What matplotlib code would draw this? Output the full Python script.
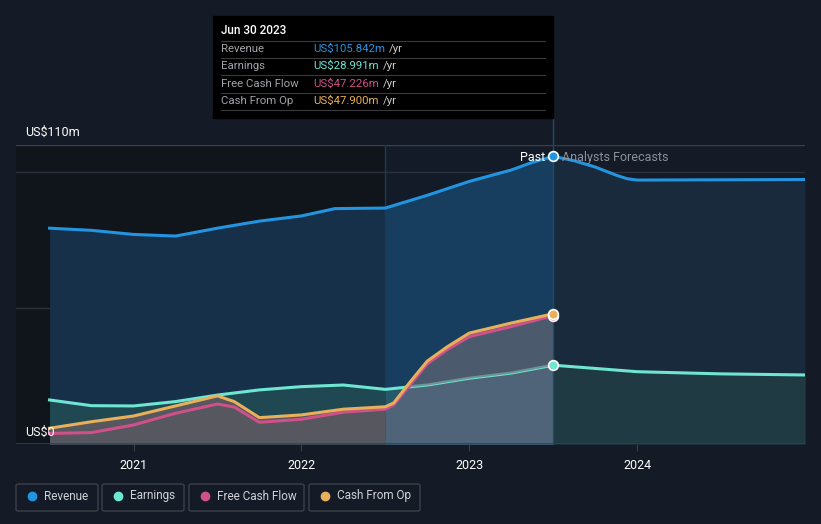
import matplotlib
matplotlib.use("Agg")
import matplotlib.pyplot as plt
from matplotlib.patches import Rectangle, FancyBboxPatch
from matplotlib.lines import Line2D
import numpy as np

plt.rcParams['font.family'] = ['Roboto', 'DejaVu Sans']

# ---- data (US$m, x in decimal years) ----
rev_x = [2020.5, 2020.75, 2021.0, 2021.25, 2021.5, 2021.75, 2022.0, 2022.2, 2022.5,
         2022.75, 2023.0, 2023.25, 2023.375, 2023.5]
rev_y = [79.4, 78.6, 77.1, 76.5, 79.4, 82.0, 83.9, 86.6, 86.8, 91.5, 96.6, 100.8, 103.6, 105.842]
rev_fx = [2023.5, 2023.625, 2023.75, 2023.875, 2023.94, 2024.0, 2024.5, 2025.0]
rev_fy = [105.842, 104.2, 101.9, 98.9, 97.6, 97.1, 97.2, 97.3]

earn_x = [2020.5, 2020.75, 2021.0, 2021.25, 2021.5, 2021.75, 2022.0, 2022.25, 2022.5,
          2022.75, 2023.0, 2023.25, 2023.5]
earn_y = [16.2, 14.1, 14.0, 15.6, 18.0, 19.9, 21.1, 21.7, 20.1, 21.7, 24.2, 26.1, 28.991]
earn_fx = [2023.5, 2023.75, 2024.0, 2024.5, 2025.0]
earn_fy = [28.991, 27.8, 26.6, 25.8, 25.4]

cfo_x = [2020.5, 2020.75, 2021.0, 2021.25, 2021.5, 2021.6, 2021.75, 2022.0, 2022.25, 2022.5,
         2022.55, 2022.65, 2022.75, 2022.87, 2023.0, 2023.25, 2023.5]
cfo_y = [5.8, 8.2, 10.3, 14.0, 17.7, 15.6, 9.7, 10.7, 12.8, 13.7,
         15.1, 23.0, 30.5, 35.8, 40.8, 44.5, 47.9]

fcf_x = [2020.5, 2020.75, 2021.0, 2021.25, 2021.5, 2021.6, 2021.75, 2022.0, 2022.25, 2022.5,
         2022.55, 2022.65, 2022.75, 2022.87, 2023.0, 2023.25, 2023.5]
fcf_y = [3.9, 4.2, 7.0, 11.3, 14.7, 13.6, 8.0, 9.1, 11.7, 12.8,
         14.4, 22.0, 29.5, 34.8, 39.5, 43.2, 47.226]

years = [2021, 2022, 2023, 2024]
tip_names = ["Revenue", "Earnings", "Free Cash Flow", "Cash From Op"]
tip_vals = ["US$105.842m", "US$28.991m", "US$47.226m", "US$47.900m"]

C_REV = "#2394df"
C_EARN = "#6ee6d2"
C_FCF = "#d0508a"
C_CFO = "#e8b05a"
BG = "#151b26"

W, H = 821, 524
fig = plt.figure(figsize=(W / 100, H / 100), dpi=100, facecolor=BG)

def fx(x):
    return x / W

def fy(y):
    return 1 - y / H

ax = fig.add_axes([fx(16), fy(444), fx(805) - fx(16), fy(145) - fy(444)])
ax.set_facecolor(BG)
x0, x1 = 2020.3, 2025.0
ax.set_xlim(x0, x1)
ax.set_ylim(0, 110)

# background regions
ax.axvspan(x0, 2022.5, color="#10141b", zorder=0, lw=0)
ax.axvspan(2022.5, 2023.5, color="#121b27", zorder=0, lw=0)

# grid lines
for g in [50, 100]:
    ax.axhline(g, color="#2a303b", lw=1, zorder=1)
ax.axhline(110, color="#3a3f49", lw=1, zorder=1)
ax.axhline(0, color="#3a3f49", lw=1.2, zorder=6)

# revenue fills
rx = np.array(rev_x); ry = np.array(rev_y)
ax.fill_between(rx, ry, 0, where=rx <= 2022.5, color="#17304a", lw=0, zorder=2)
ax.fill_between(rx, ry, 0, where=rx >= 2022.5, color="#173e5e", lw=0, zorder=2)
ax.fill_between(rev_fx, rev_fy, 0, color="#182a3c", lw=0, zorder=2)

# earnings fills
ex = np.array(earn_x); ey = np.array(earn_y)
ax.fill_between(ex, ey, 0, where=ex <= 2022.5, color="#1f4852", lw=0, zorder=3)
ax.fill_between(ex, ey, 0, where=ex >= 2022.5, color="#25586a", lw=0, zorder=3)
ax.fill_between(earn_fx, earn_fy, 0, color="#1f3a42", lw=0, zorder=3)

# earnings line sits under the cash flow fill
ax.plot(earn_x, earn_y, color=C_EARN, lw=2.2, zorder=3.5)
ax.plot(earn_fx, earn_fy, color=C_EARN, lw=2.2, zorder=7)

# cash flow fills
cx = np.array(cfo_x); cy = np.array(cfo_y)
lo = np.minimum(cy, np.interp(cx, ex, ey))
ax.fill_between(cx, cy, lo, where=cx <= 2022.5, color="#5a5a66", alpha=0.7, lw=0, zorder=4)
ax.fill_between(cx, cy, lo, where=cx >= 2022.5, color="#6a6a78", alpha=0.65, lw=0, zorder=4)
ax.fill_between(cx, lo, 0, where=cx <= 2022.5, color="#56575f", lw=0, zorder=3.2)
ax.fill_between(cx, lo, 0, where=cx >= 2022.5, color="#4f6478", lw=0, zorder=3.2)

# lines
ax.plot(rev_x, rev_y, color=C_REV, lw=2.2, zorder=7)
ax.plot(rev_fx, rev_fy, color=C_REV, lw=2.2, zorder=7)
ax.plot(fcf_x, fcf_y, color=C_FCF, lw=2.2, zorder=7)
ax.plot(cfo_x, cfo_y, color=C_CFO, lw=2.2, zorder=7)

# end markers
for yv, c in [(fcf_y[-1], C_FCF), (cfo_y[-1], C_CFO), (earn_y[-1], C_EARN), (rev_y[-1], C_REV)]:
    ax.plot([2023.5], [yv], "o", ms=7, color=c, mec="white", mew=1.2, zorder=9, clip_on=False)

# past/forecast divider
ax.plot([2023.5, 2023.5], [0, 120.3], color="#1f4c6e", lw=1, zorder=8, clip_on=False)
ax.plot([2022.5, 2022.5], [0, 110], color="#1d3a52", lw=1, zorder=2)
ax.text(2023.45, 105.4, "Past", color="white", fontsize=9, ha="right", va="center", zorder=10)
ax.text(2023.55, 105.4, "Analysts Forecasts", color="#8c9099", fontsize=9, ha="left",
        va="center", zorder=10)

# axes styling
for s in ax.spines.values():
    s.set_visible(False)
ax.set_yticks([])
ax.set_xticks(years)
ax.set_xticklabels([str(y) for y in years], color="white", fontsize=9)
ax.tick_params(axis="x", length=5, color="#3a3f49", pad=6)

fig.text(fx(25), fy(132), "US$110m", color="white", fontsize=9, va="center")
fig.text(fx(25), fy(432), "US$0", color="white", fontsize=9, va="center", zorder=20)

# tooltip
fig.patches.append(Rectangle((fx(213), fy(118)), fx(553) - fx(213), fy(16) - fy(118),
                             transform=fig.transFigure, color="black", zorder=20))
fig.text(fx(221), fy(31), "Jun 30 2023", color="white", fontsize=8.5, va="center",
         fontweight="medium", zorder=21)
row_y = [49, 66, 84, 101]
sep_y = [41, 58, 75, 93, 110]
for sy in sep_y:
    fig.lines.append(Line2D([fx(221), fx(545)], [fy(sy), fy(sy)], transform=fig.transFigure,
                            color="#3a3a3a", lw=0.8, zorder=21))
cols = [C_REV, C_EARN, C_FCF, C_CFO]
for ry_, nm, vl, c in zip(row_y, tip_names, tip_vals, cols):
    fig.text(fx(221), fy(ry_), nm, color="#a0a3a8", fontsize=8.2, va="center", zorder=22)
    t = fig.text(fx(313), fy(ry_), vl, color=c, fontsize=8.2, va="center", zorder=22)
    fig.canvas.draw()
    bb = t.get_window_extent()
    fig.text(bb.x1 / W + fx(4), fy(ry_), "/yr", color="#d0d0d0", fontsize=8.2, va="center",
             zorder=22)

# legend
leg = [("Revenue", C_REV, 16, 98), ("Earnings", C_EARN, 102, 184),
       ("Free Cash Flow", C_FCF, 189, 304), ("Cash From Op", C_CFO, 309, 420)]
for nm, c, l, r in leg:
    fig.patches.append(FancyBboxPatch((fx(l), fy(511)), fx(r) - fx(l), fy(484) - fy(511),
                                      boxstyle="round,pad=0,rounding_size=0.003",
                                      transform=fig.transFigure, fc="none", ec="#3b404a",
                                      lw=1, zorder=20))
    fig.lines.append(Line2D([fx(l + 16)], [fy(496)], transform=fig.transFigure, marker="o",
                            ms=6, color=c, zorder=21))
    fig.text(fx(l + 28), fy(496), nm, color="#d0d2d6", fontsize=8.5, va="center", zorder=21)

fig.savefig("out.png", dpi=100, facecolor=BG)
